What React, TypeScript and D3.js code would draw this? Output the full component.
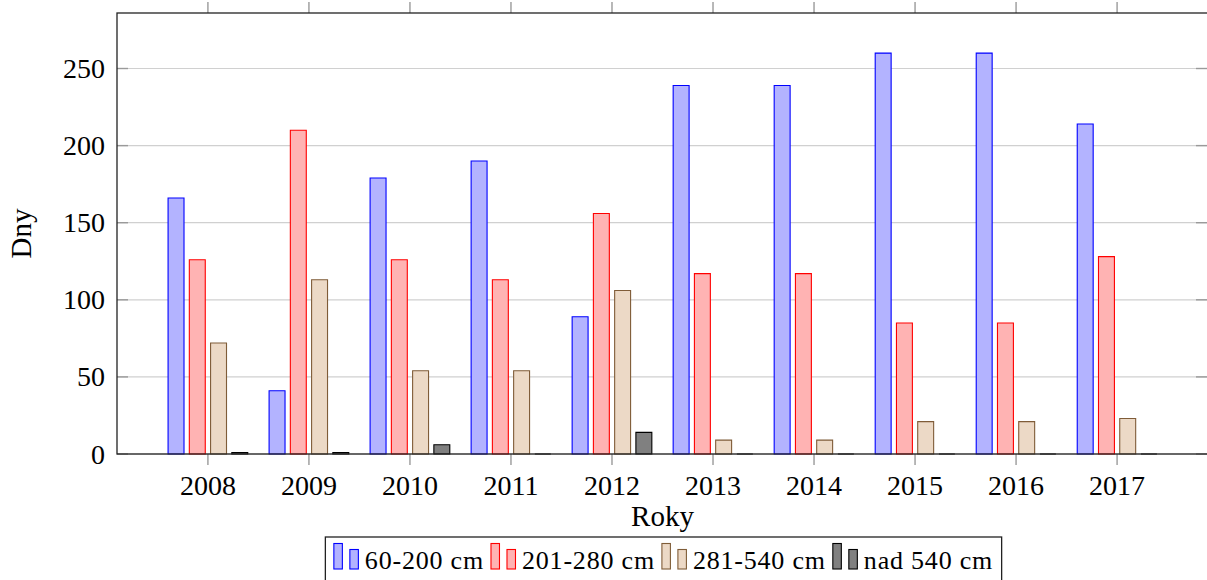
import React from 'react';
import * as d3 from 'd3';

// data
const years = [2008, 2009, 2010, 2011, 2012, 2013, 2014, 2015, 2016, 2017];
const series = ['60-200 cm', '201-280 cm', '281-540 cm', 'nad 540 cm'];
const s60_200 = [166, 41, 179, 190, 89, 239, 239, 260, 260, 214];
const s201_280 = [126, 210, 126, 113, 156, 117, 117, 85, 85, 128];
const s281_540 = [72, 113, 54, 54, 106, 9, 9, 21, 21, 23];
const sNad540 = [1, 1, 6, 0, 14, 0, 0, 0, 0, 0];
const yTicks = [0, 50, 100, 150, 200, 250];

const values = [s60_200, s201_280, s281_540, sNad540];
const fills = ['#b3b3ff', '#ffb3b3', '#ecd9c6', '#808080'];
const strokes = ['#0000ff', '#ff0000', '#7f5c38', '#000000'];

const W = 1207, H = 580;
const left = 117, right = 1208, top = 13, bottom = 454;
const font = '"Liberation Serif", "Times New Roman", serif';

function App() {
  const svgRef = React.useRef<SVGSVGElement>(null);

  React.useEffect(() => {
    const svg = d3.select(svgRef.current);
    svg.selectAll('*').remove();

    const x = d3.scaleLinear().domain([2008 - 0.9, 2017 + 0.9]).range([left, right]);
    const y = d3.scaleLinear().domain([0, 286]).range([bottom, top]);
    const inner = d3.scaleBand<string>()
      .domain(series)
      .range([-42.5, 42.5])
      .paddingInner(0.25)
      .paddingOuter(0.125);

    // grid
    svg.append('g').selectAll('line').data(yTicks).enter().append('line')
      .attr('x1', left).attr('x2', right)
      .attr('y1', (d) => y(d)).attr('y2', (d) => y(d))
      .attr('stroke', '#d0d0d0').attr('stroke-width', 1.2);

    // y tick marks (inside, both sides)
    const yt = svg.append('g').attr('stroke', '#9a9a9a').attr('stroke-width', 1.4);
    yt.selectAll('.l').data(yTicks).enter().append('line')
      .attr('x1', left).attr('x2', left + 11)
      .attr('y1', (d) => y(d)).attr('y2', (d) => y(d));
    yt.selectAll('.r').data(yTicks).enter().append('line')
      .attr('x1', right - 12).attr('x2', right)
      .attr('y1', (d) => y(d)).attr('y2', (d) => y(d));

    // x tick marks (outside, top and bottom)
    const xt = svg.append('g').attr('stroke', '#9a9a9a').attr('stroke-width', 1.4);
    xt.selectAll('.b').data(years).enter().append('line')
      .attr('x1', (d) => x(d)).attr('x2', (d) => x(d))
      .attr('y1', bottom).attr('y2', bottom + 11);
    xt.selectAll('.t').data(years).enter().append('line')
      .attr('x1', (d) => x(d)).attr('x2', (d) => x(d))
      .attr('y1', top - 11).attr('y2', top);

    // bars (paths so zero-height bars still show their stroke)
    series.forEach((s, si) => {
      svg.append('g').selectAll('path').data(values[si]).enter().append('path')
        .attr('d', (v, i) => {
          const x0 = x(years[i]) + (inner(s) as number);
          const x1 = x0 + inner.bandwidth();
          return `M${x0},${y(0)}V${y(v)}H${x1}V${y(0)}Z`;
        })
        .attr('fill', fills[si])
        .attr('stroke', strokes[si])
        .attr('stroke-width', 1.1);
    });

    // frame
    svg.append('rect')
      .attr('x', left).attr('y', top)
      .attr('width', right - left).attr('height', bottom - top)
      .attr('fill', 'none').attr('stroke', '#222').attr('stroke-width', 1.3);

    // tick labels
    svg.append('g').selectAll('text').data(yTicks).enter().append('text')
      .attr('x', 105).attr('y', (d) => y(d) + 9.5)
      .attr('text-anchor', 'end')
      .attr('font-family', font).attr('font-size', 28)
      .text((d) => d);
    svg.append('g').selectAll('text').data(years).enter().append('text')
      .attr('x', (d) => x(d)).attr('y', 495)
      .attr('text-anchor', 'middle')
      .attr('font-family', font).attr('font-size', 28)
      .text((d) => d);

    // axis labels
    svg.append('text')
      .attr('x', (left + right) / 2).attr('y', 526)
      .attr('text-anchor', 'middle')
      .attr('font-family', font).attr('font-size', 29)
      .text('Roky');
    svg.append('text')
      .attr('transform', `translate(31,${(top + bottom) / 2}) rotate(-90)`)
      .attr('text-anchor', 'middle')
      .attr('font-family', font).attr('font-size', 29)
      .text('Dny');

    // legend
    const lg = svg.append('g');
    const box = lg.append('rect')
      .attr('fill', 'white').attr('stroke', '#222').attr('stroke-width', 1.3);
    let cx = 0;
    series.forEach((s, si) => {
      const g = lg.append('g').attr('transform', `translate(${cx},0)`);
      g.append('rect').attr('x', 0).attr('y', 543.5).attr('width', 8.5).attr('height', 25.5)
        .attr('fill', fills[si]).attr('stroke', strokes[si]).attr('stroke-width', 1.1);
      g.append('rect').attr('x', 16).attr('y', 549.5).attr('width', 8.5).attr('height', 19.5)
        .attr('fill', fills[si]).attr('stroke', strokes[si]).attr('stroke-width', 1.1);
      const t = g.append('text').attr('x', 31).attr('y', 569)
        .attr('font-family', font).attr('font-size', 26)
        .attr('letter-spacing', 0.8)
        .text(s);
      const tw = (t.node() as SVGTextElement).getComputedTextLength();
      cx += 31 + tw + 7;
    });
    const totalW = cx - 7;
    const lx = (left + right) / 2 + 1 - totalW / 2;
    lg.selectAll('g').attr('transform', function () {
      const tr = d3.select(this).attr('transform');
      const v = +tr.replace(/translate\(([-\d.]+),.*/, '$1');
      return `translate(${v + lx},0)`;
    });
    box.attr('x', lx - 8.5).attr('y', 537).attr('width', totalW + 17).attr('height', 48);
  }, []);

  return (
    <svg ref={svgRef} width={W} height={H}
      style={{ position: 'absolute', left: 0, top: 0, background: 'white' }} />
  );
}

export default App;
